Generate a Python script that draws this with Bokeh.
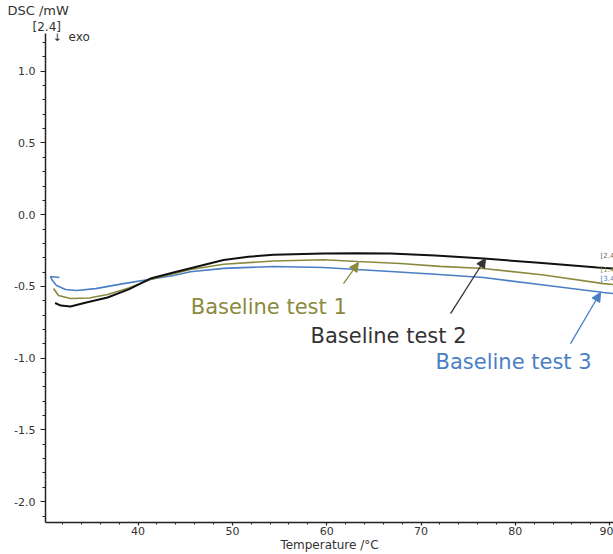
from bokeh.plotting import figure
from bokeh.models import FixedTicker, PrintfTickFormatter, Label, Arrow, NormalHead, Range1d, Title
from bokeh.embed import file_html
from bokeh.resources import INLINE

# ---- data ----
t1_T = [31.03, 31.56, 32.83, 34.8, 36.76, 39.0, 41.31, 43.5, 45.56, 49.06, 54.36, 59.66, 63.27, 67.83, 72.0, 76.63, 83.0, 89.35, 90.41]
t1_V = [-0.514, -0.563, -0.584, -0.58, -0.556, -0.51, -0.452, -0.415, -0.382, -0.345, -0.322, -0.314, -0.326, -0.340, -0.36, -0.375, -0.42, -0.48, -0.487]

t2_T = [31.2, 31.8, 32.83, 34.5, 36.76, 39.0, 41.31, 43.75, 46.62, 49.06, 51.7, 54.36, 59.66, 63.27, 66.77, 71.5, 76.63, 82.5, 88.72, 90.41]
t2_V = [-0.615, -0.633, -0.640, -0.612, -0.577, -0.52, -0.445, -0.403, -0.356, -0.316, -0.293, -0.279, -0.270, -0.268, -0.270, -0.285, -0.305, -0.335, -0.368, -0.375]

t3_T = [31.66, 30.71, 30.92, 31.35, 32.30, 33.5, 35.5, 38.45, 41.31, 43.75, 45.56, 49.06, 54.36, 59.66, 66.77, 71.5, 76.63, 83.0, 89.35, 90.41]
t3_V = [-0.438, -0.431, -0.459, -0.494, -0.521, -0.528, -0.515, -0.48, -0.45, -0.424, -0.397, -0.374, -0.361, -0.368, -0.396, -0.415, -0.438, -0.49, -0.542, -0.549]

x_ticks = [40, 50, 60, 70, 80, 90]
x_minor = [32, 34, 36, 38, 42, 44, 46, 48, 52, 54, 56, 58, 62, 64, 66, 68, 72, 74, 76, 78, 82, 84, 86, 88]
y_ticks = [-2.0, -1.5, -1.0, -0.5, 0.0, 0.5, 1.0]
y_minor = [round(-2.1 + 0.1 * i, 1) for i in range(34)]

labels = ["Baseline test 1", "Baseline test 2", "Baseline test 3"]
colors = ["#8a8a3e", "#111111", "#4a7fc6"]
text_colors = ["#8a8a3e", "#333333", "#4a7fc6"]

FONT = "DejaVu Sans"
AXC = "#333333"

p = figure(width=613, height=554, output_backend="svg", toolbar_location=None,
           x_range=Range1d(30.18, 90.41), y_range=Range1d(-2.145, 1.263),
           min_border_left=45, min_border_right=0, min_border_top=33, min_border_bottom=32)
p.outline_line_color = None
p.grid.visible = False
p.background_fill_color = "white"

for ax in (p.xaxis[0], p.yaxis[0]):
    ax.axis_line_color = "#222222"
    ax.axis_line_width = 1.5
    ax.major_tick_line_color = "#222222"
    ax.minor_tick_line_color = "#222222"
    ax.major_tick_line_width = 1.2
    ax.minor_tick_line_width = 1
    ax.major_tick_in = 0
    ax.minor_tick_in = 0
    ax.major_label_text_font = FONT
    ax.major_label_text_font_size = "11px"
    ax.major_label_text_color = AXC

p.xaxis.ticker = FixedTicker(ticks=x_ticks, minor_ticks=x_minor)
p.yaxis.ticker = FixedTicker(ticks=y_ticks, minor_ticks=y_minor)
p.yaxis.formatter = PrintfTickFormatter(format="%.1f")
p.xaxis.major_tick_out = 3
p.xaxis.minor_tick_out = 2
p.yaxis.major_tick_out = 5
p.yaxis.minor_tick_out = 3
p.xaxis.major_label_standoff = 1
p.yaxis.major_label_standoff = 5

p.xaxis.axis_label = "Temperature /\u00b0C"
p.xaxis.axis_label_text_font = FONT
p.xaxis.axis_label_text_font_size = "12px"
p.xaxis.axis_label_text_font_style = "normal"
p.xaxis.axis_label_text_color = AXC
p.xaxis.axis_label_standoff = 0

# titles above the plot (nearest first)
p.add_layout(Title(text="[2.4]", align="left", offset=-13, standoff=0, text_font=FONT,
                   text_font_size="12px", text_font_style="normal", text_color=AXC), "above")
p.add_layout(Title(text="DSC /mW", align="left", offset=-38, standoff=0, text_font=FONT,
                   text_font_size="13px", text_font_style="normal", text_color=AXC), "above")

p.line(t3_T, t3_V, line_color=colors[2], line_width=1.6)
p.line(t1_T, t1_V, line_color=colors[0], line_width=1.6)
p.line(t2_T, t2_V, line_color=colors[1], line_width=2.0)

# annotation texts
txt_pos = [(45.58, -0.642), (58.28, -0.843), (71.54, -1.023)]
for (tx, ty), lab, c in zip(txt_pos, labels, text_colors):
    p.add_layout(Label(x=tx, y=ty, text=lab, text_font=FONT, text_font_size="21px",
                       text_color=c, text_baseline="alphabetic", text_align="left"))

arrows = [((61.78, -0.480), (63.37, -0.333)),
          ((73.13, -0.689), (76.84, -0.305)),
          ((85.85, -0.898), (89.03, -0.542))]
for ((xs, ys), (xe, ye)), c in zip(arrows, text_colors):
    p.add_layout(Arrow(x_start=xs, y_start=ys, x_end=xe, y_end=ye, line_color=c, line_width=1.3,
                       end=NormalHead(size=9, fill_color=c, line_color=c)))

# small end labels at right edge
end_lbl = [("[2.4", -0.288, "#666666"), ("[1.4", -0.382, "#8a8a3e"), ("[3.4", -0.445, "#4a7fc6")]
for s, yv, c in end_lbl:
    p.add_layout(Label(x=89.03, y=yv, text=s, text_font=FONT, text_font_size="7px",
                       text_color=c, text_baseline="middle"))

p.add_layout(Label(x=31.45, y=1.235, text="\u2193", text_font=FONT, text_font_size="11px",
                   text_color=AXC, text_baseline="middle", text_align="center"))
p.add_layout(Label(x=32.62, y=1.242, text="exo", text_font=FONT, text_font_size="12px",
                   text_color=AXC, text_baseline="middle"))

open("out.html", "w").write(file_html(p, INLINE))
